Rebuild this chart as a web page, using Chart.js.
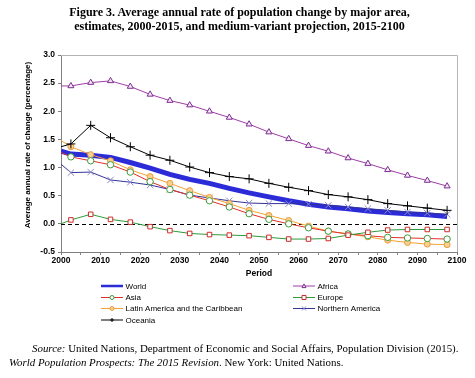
<!DOCTYPE html>
<html>
<head>
<meta charset="utf-8">
<script src="https://cdn.jsdelivr.net/npm/chart.js@4/dist/chart.umd.min.js"></script>
<style>
  html, body { margin: 0; padding: 0; background: #fff; }
  #wrap { position: relative; width: 475px; height: 378px; overflow: hidden; }
  #c { position: absolute; left: 0; top: 0; }
  .title { position: absolute; left: 0; width: 475px; text-align: center; font-family: "Liberation Serif", "Times New Roman", serif; font-weight: bold; font-size: 12px; line-height: 13.5px; color: #000; }
  .src { position: absolute; font-family: "Liberation Serif", "Times New Roman", serif; font-size: 10.9px; line-height: 13px; color: #000; white-space: nowrap; }
</style>
</head>
<body>
<div id="wrap">
  <canvas id="c" width="475" height="378"></canvas>
  <div class="title" style="top:6px; left:2px;">Figure 3. Average annual rate of population change by major area,<br>estimates, 2000-2015, and medium-variant projection, 2015-2100</div>
  <div class="src" style="left:32px; top:342px;"><i>Source:</i> United Nations, Department of Economic and Social Affairs, Population Division (2015).</div>
  <div class="src" style="left:9px; top:356px;"><i>World Population Prospects: The 2015 Revision</i>. New York: United Nations.</div>
</div>
<script>
const years = [2000, 2002.5, 2007.5, 2012.5, 2017.5, 2022.5, 2027.5, 2032.5, 2037.5, 2042.5, 2047.5, 2052.5, 2057.5, 2062.5, 2067.5, 2072.5, 2077.5, 2082.5, 2087.5, 2092.5, 2097.5];
const world   = [1.29, 1.24, 1.22, 1.18, 1.09, 0.99, 0.88, 0.79, 0.72, 0.63, 0.55, 0.48, 0.41, 0.35, 0.30, 0.27, 0.23, 0.20, 0.18, 0.16, 0.13];
const africa  = [2.45, 2.45, 2.51, 2.54, 2.44, 2.30, 2.19, 2.11, 2.00, 1.89, 1.77, 1.63, 1.51, 1.39, 1.29, 1.17, 1.07, 0.96, 0.86, 0.77, 0.67];
const asia    = [1.27, 1.19, 1.12, 1.05, 0.92, 0.75, 0.61, 0.51, 0.41, 0.30, 0.18, 0.08, 0.00, -0.07, -0.13, -0.18, -0.21, -0.24, -0.25, -0.26, -0.27];
const europe  = [0.00, 0.07, 0.17, 0.08, 0.03, -0.05, -0.12, -0.17, -0.19, -0.20, -0.21, -0.24, -0.27, -0.27, -0.26, -0.20, -0.15, -0.11, -0.10, -0.10, -0.10];
const latam   = [1.48, 1.37, 1.23, 1.12, 0.96, 0.84, 0.72, 0.59, 0.47, 0.36, 0.24, 0.15, 0.06, -0.04, -0.13, -0.18, -0.23, -0.29, -0.33, -0.36, -0.37];
const namerica= [1.06, 0.91, 0.92, 0.78, 0.74, 0.69, 0.61, 0.51, 0.46, 0.41, 0.37, 0.36, 0.36, 0.35, 0.33, 0.30, 0.27, 0.24, 0.21, 0.19, 0.17];
const oceania = [1.37, 1.42, 1.75, 1.53, 1.37, 1.22, 1.13, 1.01, 0.91, 0.84, 0.80, 0.72, 0.65, 0.59, 0.52, 0.48, 0.43, 0.36, 0.32, 0.28, 0.24];
const xTicks = [2000, 2010, 2020, 2030, 2040, 2050, 2060, 2070, 2080, 2090, 2100];
const yTicks = [-0.5, 0.0, 0.5, 1.0, 1.5, 2.0, 2.5, 3.0];

function pts(vals) { return years.map((y, i) => ({x: y, y: vals[i]})); }

function ds(label, vals, line, lw, style, mBorder, mFill, r, order) {
  return {
    label, data: pts(vals), borderColor: line, borderWidth: lw, tension: 0,
    pointStyle: style || 'circle',
    pointRadius: style ? (c => c.dataIndex === 0 ? 0 : r) : 0,
    pointHoverRadius: style ? r : 0,
    pointBorderColor: mBorder, pointBackgroundColor: mFill, pointBorderWidth: 1,
    order
  };
}

const datasets = [
  ds('World', world, '#2b2bd8', 5, null, null, null, 0, 7),
  ds('Africa', africa, '#a03ca8', 1, 'triangle', '#7a2c8f', '#f4e8f6', 3.5, 1),
  ds('Asia', asia, '#e0302a', 1, 'circle', '#3a9a3a', '#ffffff', 3.2, 3),
  ds('Europe', europe, '#2f9a3a', 1, 'rect', '#d02a2a', '#ffffff', 3.2, 2),
  ds('Latin America and the Caribbean', latam, '#f5a030', 1, 'circle', '#e89a40', '#f8d090', 3, 4),
  ds('Northern America', namerica, '#333399', 1, 'crossRot', '#8a86c8', '#8a86c8', 4.5, 5),
  ds('Oceania', oceania, '#000000', 1, 'cross', '#000000', '#000000', 4.5, 0)
];

function drawMarker(ctx, style, x, y, r, stroke, fill) {
  ctx.save();
  ctx.lineWidth = 1; ctx.strokeStyle = stroke; ctx.fillStyle = fill;
  ctx.beginPath();
  if (style === 'circle') { ctx.arc(x, y, r, 0, Math.PI * 2); ctx.fill(); ctx.stroke(); }
  else if (style === 'rect') { ctx.rect(x - r, y - r, 2 * r, 2 * r); ctx.fill(); ctx.stroke(); }
  else if (style === 'triangle') { ctx.moveTo(x, y - r); ctx.lineTo(x + r, y + r * 0.8); ctx.lineTo(x - r, y + r * 0.8); ctx.closePath(); ctx.fill(); ctx.stroke(); }
  else if (style === 'cross') { ctx.moveTo(x - r, y); ctx.lineTo(x + r, y); ctx.moveTo(x, y - r); ctx.lineTo(x, y + r); ctx.stroke(); }
  else if (style === 'crossRot') { ctx.moveTo(x - r, y - r); ctx.lineTo(x + r, y + r); ctx.moveTo(x - r, y + r); ctx.lineTo(x + r, y - r); ctx.stroke(); }
  ctx.restore();
}

const legendPos = [
  [101, 286], [293, 286],
  [101, 297.5], [293, 297.5],
  [101, 308.5], [293, 308.5],
  [101, 320]
];

const extras = {
  id: 'extras',
  beforeDatasetsDraw(chart) {
    const {ctx, chartArea: a, scales} = chart;
    ctx.save();
    ctx.strokeStyle = '#b4b4b4'; ctx.lineWidth = 1;
    ctx.beginPath();
    ctx.moveTo(a.left, a.top + 0.5); ctx.lineTo(a.right + 0.5, a.top + 0.5); ctx.lineTo(a.right + 0.5, a.bottom);
    ctx.stroke();
    const y0 = Math.round(scales.y.getPixelForValue(0)) + 0.5;
    ctx.strokeStyle = '#000'; ctx.setLineDash([4, 3]);
    ctx.beginPath(); ctx.moveTo(a.left, y0); ctx.lineTo(a.right, y0); ctx.stroke();
    ctx.restore();
  },
  afterDraw(chart) {
    const {ctx} = chart;
    ctx.save();
    ctx.translate(28, 145);
    ctx.rotate(-Math.PI / 2);
    ctx.fillStyle = '#000';
    ctx.font = 'bold 8px "Liberation Sans", Arial, sans-serif';
    ctx.textAlign = 'center'; ctx.textBaseline = 'middle';
    ctx.fillText('Average annual rate of change (percentage)', 0, 0);
    ctx.restore();
    ctx.save();
    ctx.font = '8px "Liberation Sans", Arial, sans-serif';
    ctx.textBaseline = 'middle'; ctx.textAlign = 'left'; ctx.fillStyle = '#000';
    chart.data.datasets.forEach((d, i) => {
      const [lx, ly] = legendPos[i];
      ctx.strokeStyle = d.borderColor;
      ctx.lineWidth = d.borderWidth > 1 ? 2.5 : 1;
      ctx.beginPath(); ctx.moveTo(lx, ly); ctx.lineTo(lx + 22, ly); ctx.stroke();
      if (d.pointRadius !== 0) drawMarker(ctx, d.pointStyle, lx + 11, ly, 2, d.pointBorderColor, d.pointBackgroundColor);
      ctx.fillStyle = '#000';
      ctx.fillText(d.label, lx + 24.5, ly + 0.5);
    });
    ctx.restore();
  }
};

new Chart(document.getElementById('c'), {
  type: 'line',
  data: { datasets },
  options: {
    responsive: false,
    animation: false,
    events: [],
    layout: { padding: { left: 0, right: 18, top: 55, bottom: 99 } },
    plugins: { legend: { display: false }, tooltip: { enabled: false }, title: { display: false } },
    scales: {
      x: {
        type: 'linear', min: 2000, max: 2100,
        afterBuildTicks: s => { s.ticks = [2000,2005,2010,2015,2020,2025,2030,2035,2040,2045,2050,2055,2060,2065,2070,2075,2080,2085,2090,2095,2100].map(v => ({value: v})); },
        ticks: {
          autoSkip: false, maxRotation: 0, padding: 1, color: '#000',
          font: { family: '"Liberation Sans", Arial, sans-serif', size: 8.5, weight: 'bold' },
          callback: v => xTicks.includes(v) ? String(v) : ''
        },
        grid: { drawOnChartArea: false, drawTicks: true, tickLength: 3, color: '#808080' },
        border: { color: '#808080' },
        title: { display: true, text: 'Period', color: '#000', padding: { top: 0, bottom: 0 },
          font: { family: '"Liberation Sans", Arial, sans-serif', size: 8.5, weight: 'bold' } },
        afterFit: s => { s.height = 27; }
      },
      y: {
        type: 'linear', min: -0.5, max: 3.0,
        afterBuildTicks: s => { s.ticks = yTicks.map(v => ({value: v})); },
        ticks: {
          padding: 3, color: '#000',
          font: { family: '"Liberation Sans", Arial, sans-serif', size: 8.5, weight: 'bold' },
          callback: v => v.toFixed(1)
        },
        grid: { drawOnChartArea: false, drawTicks: true, tickLength: 3, color: '#808080' },
        border: { color: '#808080' },
        afterFit: s => { s.width = 61; }
      }
    }
  },
  plugins: [extras]
});
</script>
</body>
</html>
